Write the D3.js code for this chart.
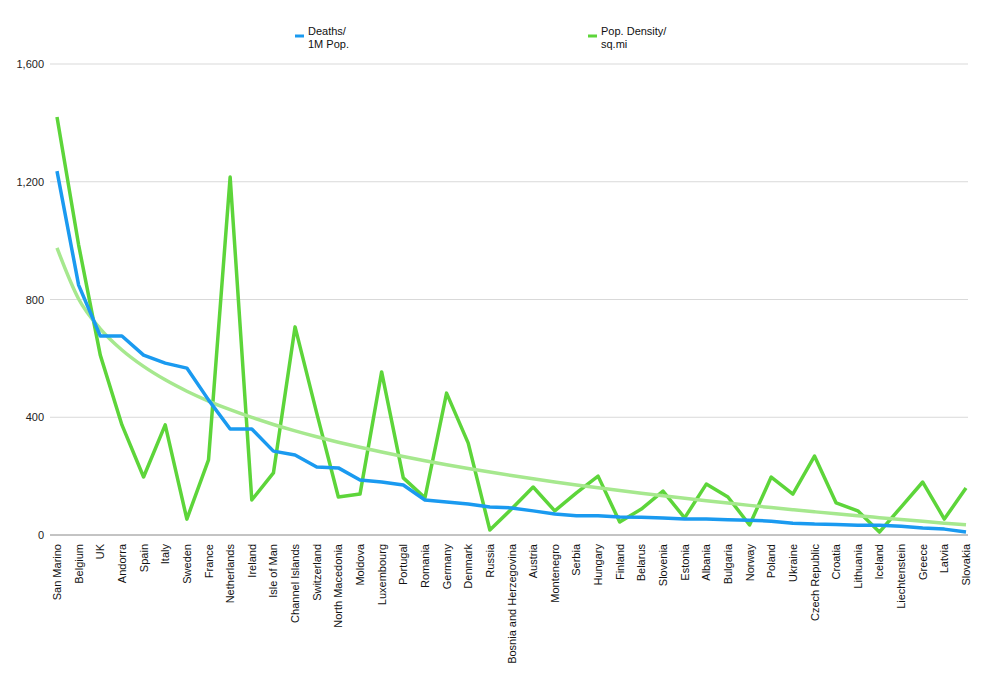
<!DOCTYPE html><html><head><meta charset="utf-8"><script src="https://cdn.jsdelivr.net/npm/d3@7"></script>
<style>body{margin:0;background:#fff}text{font-family:"Helvetica Neue",Arial,"Liberation Sans",sans-serif}</style></head><body><svg id="c" width="1000" height="679"></svg><script>
const countries=["San Marino","Belgium","UK","Andorra","Spain","Italy","Sweden","France","Netherlands","Ireland","Isle of Man","Channel Islands","Switzerland","North Macedonia","Moldova","Luxembourg","Portugal","Romania","Germany","Denmark","Russia","Bosnia and Herzegovina","Austria","Montenegro","Serbia","Hungary","Finland","Belarus","Slovenia","Estonia","Albania","Bulgaria","Norway","Poland","Ukraine","Czech Republic","Croatia","Lithuania","Iceland","Liechtenstein","Greece","Latvia","Slovakia"];
const deaths=[1236,849,676,676,611,584,567,459,360,360,285,272,231,228,187,180,170,119,112,105,95,92,82,71,65,65,61,60,58,54,54,52,50,47,40,37,36,33,33,30,24,20,10];
const density=[1420,985,611,374,197,374,54,255,1216,119,211,707,414,129,139,554,194,126,482,312,17,88,163,82,143,200,44,88,149,58,173,129,34,197,139,268,109,82,10,95,180,54,160];
const yTicks=[0,400,800,1200,1600];
const svg=d3.select("#c");
const x=d3.scalePoint().domain(countries).range([57,966]);
const y=d3.scaleLinear().domain([0,1600]).range([535,64]);
const g=svg.append("g");
yTicks.forEach(t=>{
 g.append("line").attr("x1",50).attr("x2",968).attr("y1",y(t)).attr("y2",y(t)).attr("stroke",t?"#d9d9d9":"#888").attr("stroke-width",1);
 g.append("text").attr("x",44).attr("y",y(t)+4).attr("text-anchor","end").attr("font-size",11).attr("fill","#222").text(d3.format(",")(t));
});
countries.forEach(c=>{
 svg.append("text").attr("transform",`translate(${x(c)+4},544) rotate(-90)`).attr("text-anchor","end").attr("font-size",11).attr("fill","#111").text(c);
});
// logarithmic trendline fit on density
const n=density.length;const lx=density.map((d,i)=>Math.log(i+1));
const mx=d3.mean(lx),my=d3.mean(density);
const b=d3.sum(lx.map((v,i)=>(v-mx)*(density[i]-my)))/d3.sum(lx.map(v=>(v-mx)**2));
const a=my-b*mx;
const trend=countries.map((c,i)=>a+b*Math.log(i+1));
const line=d3.line().x((d,i)=>x(countries[i])).y(d=>y(d));
svg.append("path").datum(density).attr("d",line).attr("fill","none").attr("stroke","#5dd53a").attr("stroke-width",3.5).attr("stroke-linejoin","round");
svg.append("path").datum(trend).attr("d",line.curve(d3.curveMonotoneX)).attr("fill","none").attr("stroke","#a6e88e").attr("stroke-width",3.5);
svg.append("path").datum(deaths).attr("d",d3.line().x((d,i)=>x(countries[i])).y(d=>y(d))).attr("fill","none").attr("stroke","#1a9af0").attr("stroke-width",3.5).attr("stroke-linejoin","round");
// legend
[[305,"#1a9af0",["Deaths/","1M Pop."]],[598,"#5dd53a",["Pop. Density/","sq.mi"]]].forEach(([lxp,col,lines])=>{
 svg.append("line").attr("x1",lxp-10).attr("x2",lxp-1).attr("y1",36).attr("y2",36).attr("stroke",col).attr("stroke-width",3);
 lines.forEach((t,k)=>svg.append("text").attr("x",lxp+3).attr("y",35+k*13).attr("font-size",11).attr("fill","#111").text(t));
});
</script></body></html>
